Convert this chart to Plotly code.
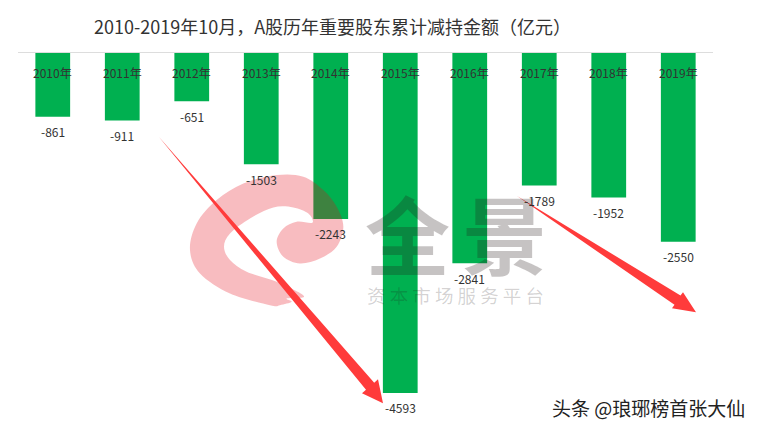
import plotly.graph_objects as go

years = ["2010年", "2011年", "2012年", "2013年", "2014年", "2015年", "2016年", "2017年", "2018年", "2019年"]
values = [-861, -911, -651, -1503, -2243, -4593, -2841, -1789, -1952, -2550]
title_text = "2010-2019年10月，A股历年重要股东累计减持金额（亿元）"
footer_text = "头条 @琅琊榜首张大仙"
mark_big = ["全", "景"]
mark_small = "资 本 市 场 服 务 平 台"

W, H = 759, 430
L, R, T = 18, 713, 53
B = 422.8
FONT = "Noto Sans CJK SC"


def px(x):
    return (x - L) / (R - L)


def py(y):
    return (B - y) / (B - T)


def poly(points):
    return "M" + " L".join(f"{px(x):.5f},{py(y):.5f}" for x, y in points) + " Z"


def smooth(points):
    n = len(points)
    d = f"M{px(points[0][0]):.5f},{py(points[0][1]):.5f}"
    for i in range(n):
        p0, p1, p2, p3 = points[i - 1], points[i], points[(i + 1) % n], points[(i + 2) % n]
        c1 = (p1[0] + (p2[0] - p0[0]) / 6, p1[1] + (p2[1] - p0[1]) / 6)
        c2 = (p2[0] - (p3[0] - p1[0]) / 6, p2[1] - (p3[1] - p1[1]) / 6)
        d += f" C{px(c1[0]):.5f},{py(c1[1]):.5f} {px(c2[0]):.5f},{py(c2[1]):.5f} {px(p2[0]):.5f},{py(p2[1]):.5f}"
    return d + " Z"


swirl_zoom = [(270, 405), (150, 370), (60, 310), (30, 240), (50, 160), (110, 90), (190, 40), (290, 15),
              (370, 20), (430, 60), (470, 110), (490, 170), (470, 230), (420, 265), (360, 280), (310, 260),
              (290, 215), (310, 175), (350, 155), (397, 158), (385, 130), (340, 112), (280, 112), (210, 145),
              (150, 190), (132, 230), (150, 270), (200, 305), (290, 335), (372, 378), (320, 385), (335, 395),
              (300, 405)]
swirl = [(180 + x / 3, 170 + y / 3) for x, y in swirl_zoom]

arrow1 = [(159, 137), (374.2, 382.5), (378, 379), (383, 403), (362, 393), (366, 389.5)]
arrow2 = [(517, 196), (680.5, 295.4), (683, 292), (696, 312), (672, 308), (674.5, 304.6)]

fig = go.Figure(go.Bar(x=years, y=values, marker=dict(color="#00B050", line=dict(width=0)), width=0.5,
                       hoverinfo="x+y"))

shapes = [
    dict(type="path", xref="paper", yref="paper", path=smooth(swirl), fillcolor="rgba(229,7,22,0.27)",
         line=dict(width=0), layer="above"),
    dict(type="path", xref="paper", yref="paper", path=poly(arrow1), fillcolor="#FF3B3B",
         line=dict(width=0), layer="above"),
    dict(type="path", xref="paper", yref="paper", path=poly(arrow2), fillcolor="#FF3B3B",
         line=dict(width=0), layer="above"),
]

ann = []
for y, v in zip(years, values):
    ann.append(dict(x=y, y=0, yshift=-19, text=y, showarrow=False, xanchor="center", yanchor="middle",
                    font=dict(size=12, color="#333333", family=FONT)))
    ann.append(dict(x=y, y=v, yshift=-15, text=str(v), showarrow=False, xanchor="center", yanchor="middle",
                    font=dict(size=12, color="#333333", family=FONT)))
for ch, cx in zip(mark_big, (407, 504)):
    ann.append(dict(xref="paper", yref="paper", x=px(cx), y=py(231), text=ch, showarrow=False, xanchor="center",
                    yanchor="middle", font=dict(size=85, color="rgba(35,25,25,0.26)", family=FONT, weight="bold")))
ann.append(dict(xref="paper", yref="paper", x=px(455), y=py(295), text=mark_small, showarrow=False, xanchor="center",
                yanchor="middle", font=dict(size=18.5, color="rgba(35,25,25,0.2)", family=FONT)))
ann.append(dict(xref="paper", yref="paper", x=px(332), y=py(26), text=title_text, showarrow=False, xanchor="center",
                yanchor="middle", font=dict(size=18, color="#333333", family=FONT)))
ann.append(dict(xref="paper", yref="paper", x=px(747), y=py(407), xanchor="right", text=footer_text, showarrow=False,
                yanchor="middle", font=dict(size=19, color="#222222", family=FONT)))

fig.update_layout(
    width=W, height=H, autosize=False, showlegend=False,
    margin=dict(l=L, r=W - R, t=T, b=H - B, pad=0),
    paper_bgcolor="white", plot_bgcolor="white",
    xaxis=dict(type="category", categoryorder="array", categoryarray=years, showticklabels=False, showgrid=False,
               zeroline=False, showline=True, linecolor="#DDDDDD", linewidth=1, side="top", ticks=""),
    yaxis=dict(range=[-5000, 0], visible=False, showgrid=False, zeroline=False),
    shapes=shapes, annotations=ann,
)
fig.write_html("out.html", config=dict(displayModeBar=False),
               post_script="document.body.style.margin='0';document.documentElement.style.overflow='hidden';")
